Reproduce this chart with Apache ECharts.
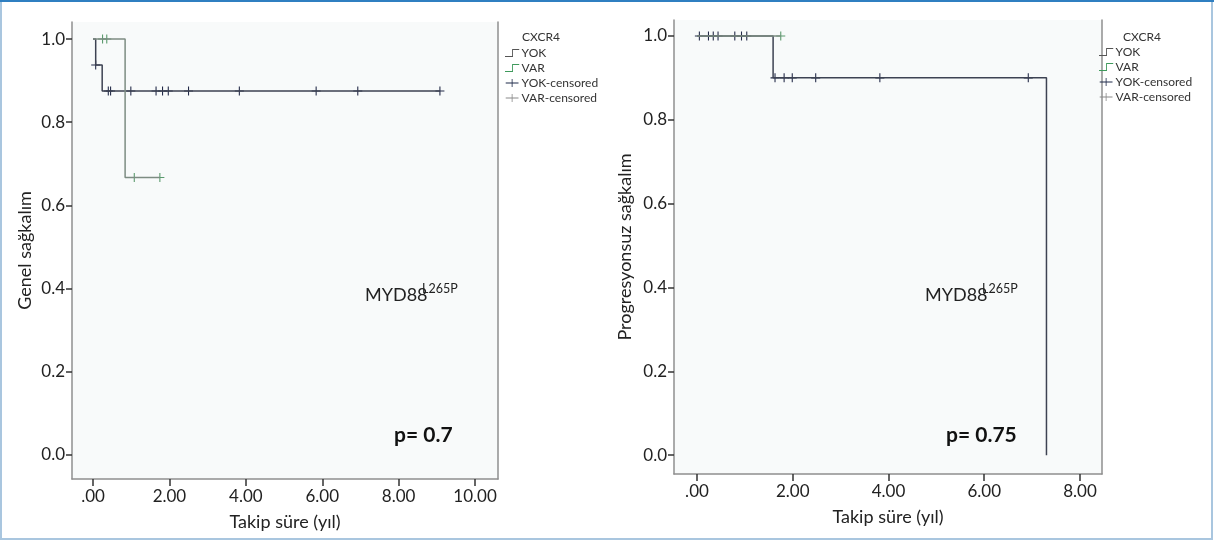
<!DOCTYPE html>
<html>
<head>
<meta charset="utf-8">
<script src="https://cdn.jsdelivr.net/npm/echarts@6/dist/echarts.min.js"></script>
<style>
  html, body { margin: 0; padding: 0; background: #fff; }
  #chart { width: 1214px; height: 541px; }
</style>
</head>
<body>
<div id="chart"></div>
<script>
// ---- data ----
var xTicksL = [0, 2, 4, 6, 8, 10];
var xTicksR = [0, 2, 4, 6, 8];
var yTicks = [0, 0.2, 0.4, 0.6, 0.8, 1.0];

// left panel: Genel sagkalim
var yokTimeL = [0, 0.07, 0.24, 9.08];
var yokSurvL = [1, 0.9375, 0.875, 0.875];
var varTimeL = [0, 0.84, 1.75];
var varSurvL = [1, 0.667, 0.667];
var yokCensTimeL = [0.07, 0.40, 0.46, 0.99, 1.65, 1.82, 1.97, 2.50, 3.83, 5.84, 6.93, 9.08];
var yokCensSurvL = [0.9375, 0.875, 0.875, 0.875, 0.875, 0.875, 0.875, 0.875, 0.875, 0.875, 0.875, 0.875];
var varCensTimeL = [0.25, 0.36, 1.08, 1.75];
var varCensSurvL = [1, 1, 0.667, 0.667];

// right panel: Progresyonsuz sagkalim
var yokTimeR = [0, 1.59, 7.30, 7.30];
var yokSurvR = [1, 0.9, 0.9, 0];
var varTimeR = [0, 1.75];
var varSurvR = [1, 1];
var yokCensTimeR = [0.05, 0.24, 0.34, 0.44, 0.79, 0.93, 1.04, 1.63, 1.82, 1.99, 2.48, 3.82, 6.92];
var yokCensSurvR = [1, 1, 1, 1, 1, 1, 1, 0.9, 0.9, 0.9, 0.9, 0.9, 0.9];
var varCensTimeR = [1.75];
var varCensSurvR = [1];

var FONT = 'Lato, "Open Sans", sans-serif';
var YOK_LINE = '#3d4252';
var YOK_MARK = '#232a48';
var VAR_LINE = '#7d8c82';
var VAR_MARK = '#5a9a6c';

var stepIcon = 'path://M0,9H8V1H16V2H9V10H0Z';
var censIcon = 'path://M0,4.5H7.5V0H8.5V4.5H16V5.5H8.5V10H7.5V5.5H0Z';
var plusMark = 'path://M-0.12,-1H0.12V-0.12H1V0.12H0.12V1H-0.12V0.12H-1V-0.12H-0.12Z';

function pairs(xs, ys) {
    var out = [];
    for (var i = 0; i < xs.length; i++) out.push([xs[i], ys[i]]);
    return out;
}
function xFmt(v) { return v === 0 ? '.00' : v.toFixed(2); }

function xAxisCfg(grid, min, max, ticks, gapName) {
    return {
        type: 'value', gridIndex: grid, min: min, max: max,
        name: 'Takip süre (yıl)', nameLocation: 'middle', nameGap: gapName,
        nameTextStyle: { fontFamily: FONT, fontSize: 18, color: '#222' },
        axisLine: { show: true, onZero: false, lineStyle: { color: '#8f8f8f', width: 1.5 } },
        axisTick: { show: true, length: 7, customValues: ticks, lineStyle: { color: '#333', width: 1.5 } },
        axisLabel: { customValues: ticks, margin: 9, fontFamily: FONT, fontSize: 17, color: '#222', formatter: xFmt },
        splitLine: { show: false }
    };
}
function yAxisCfg(grid, min, max, name, gap) {
    return {
        type: 'value', gridIndex: grid, min: min, max: max,
        name: name, nameLocation: 'middle', nameGap: gap,
        nameTextStyle: { fontFamily: FONT, fontSize: 18, color: '#222' },
        axisLine: { show: true, onZero: false, lineStyle: { color: '#8f8f8f', width: 1.5 } },
        axisTick: { show: true, length: 6, customValues: yTicks, lineStyle: { color: '#333', width: 1.5 } },
        axisLabel: { customValues: yTicks, margin: 7, fontFamily: FONT, fontSize: 17, color: '#222',
            formatter: function (v) { return v.toFixed(1); } },
        splitLine: { show: false }
    };
}
function frameAxis(grid, min, max) {
    return {
        type: 'value', gridIndex: grid, min: min, max: max, position: 'right',
        axisLine: { show: true, onZero: false, lineStyle: { color: '#8f8f8f', width: 1.5 } },
        axisTick: { show: false }, axisLabel: { show: false }, splitLine: { show: false }
    };
}
function curve(name, xi, data, color) {
    return {
        name: name, type: 'line', step: 'end', xAxisIndex: xi, yAxisIndex: xi,
        data: data, showSymbol: false, symbol: 'none', silent: true,
        lineStyle: { color: color, width: 1.5 }, itemStyle: { color: color }
    };
}
function marks(name, xi, data, color) {
    return {
        name: name, type: 'scatter', xAxisIndex: xi, yAxisIndex: xi,
        data: data, symbol: plusMark, symbolSize: [9, 9], silent: true,
        itemStyle: { color: color, opacity: 1 }
    };
}
function legendCfg(left, top) {
    return {
        orient: 'vertical', left: left, top: top, itemWidth: 17, itemHeight: 8, itemGap: 3,
        selectedMode: false,
        textStyle: { fontFamily: FONT, fontSize: 12, color: '#333', padding: [0, 0, 0, -4] },
        data: [
            { name: 'YOK', icon: stepIcon, itemStyle: { color: '#555' } },
            { name: 'VAR', icon: stepIcon, itemStyle: { color: '#3f9a5c' } },
            { name: 'YOK-censored', icon: censIcon, itemStyle: { color: '#1f2a4a' } },
            { name: 'VAR-censored', icon: censIcon, itemStyle: { color: '#8a8a8a' } }
        ]
    };
}

var option = {
    backgroundColor: '#ffffff',
    animation: false,
    grid: [
        { left: 72, right: 716, top: 22, bottom: 62, show: true, backgroundColor: '#f8fafa', borderWidth: 0 },
        { left: 674, right: 112, top: 20, bottom: 67, show: true, backgroundColor: '#f8fafa', borderWidth: 0 }
    ],
    xAxis: [
        xAxisCfg(0, -0.55, 10.6, xTicksL, 34),
        xAxisCfg(1, -0.48, 8.46, xTicksR, 34)
    ],
    yAxis: [
        yAxisCfg(0, -0.058, 1.041, 'Genel sağkalım', 38),
        yAxisCfg(1, -0.045, 1.038, 'Progresyonsuz sağkalım', 40),
        frameAxis(0, -0.058, 1.041),
        frameAxis(1, -0.045, 1.038)
    ],
    legend: [legendCfg(500, 42), legendCfg(1094, 41)],
    series: [
        curve('YOK', 0, pairs(yokTimeL, yokSurvL), YOK_LINE),
        curve('VAR', 0, pairs(varTimeL, varSurvL), VAR_LINE),
        marks('YOK-censored', 0, pairs(yokCensTimeL, yokCensSurvL), YOK_MARK),
        marks('VAR-censored', 0, pairs(varCensTimeL, varCensSurvL), VAR_MARK),
        curve('YOK', 1, pairs(yokTimeR, yokSurvR), YOK_LINE),
        curve('VAR', 1, pairs(varTimeR, varSurvR), VAR_LINE),
        marks('YOK-censored', 1, pairs(yokCensTimeR, yokCensSurvR), YOK_MARK),
        marks('VAR-censored', 1, pairs(varCensTimeR, varCensSurvR), VAR_MARK)
    ],
    graphic: [
        { type: 'rect', silent: true, z: 100, shape: { x: 1, y: 1, width: 1211, height: 538 },
          style: { fill: 'none', stroke: '#a9c6df', lineWidth: 2 } },
        { type: 'line', silent: true, z: 101, shape: { x1: 0, y1: 1, x2: 1214, y2: 1 },
          style: { stroke: '#2f7fc1', lineWidth: 2 } },
        { type: 'text', left: 522, top: 31, style: { text: 'CXCR4', fontFamily: FONT, fontSize: 12, fill: '#333' } },
        { type: 'text', left: 1123, top: 31, style: { text: 'CXCR4', fontFamily: FONT, fontSize: 12, fill: '#333' } },
        { type: 'text', left: 365, top: 286, style: { text: 'MYD88', fontFamily: FONT, fontSize: 18, fill: '#222' } },
        { type: 'text', left: 422, top: 282, style: { text: 'L265P', fontFamily: FONT, fontSize: 12.5, fill: '#222' } },
        { type: 'text', left: 925, top: 286, style: { text: 'MYD88', fontFamily: FONT, fontSize: 18, fill: '#222' } },
        { type: 'text', left: 982, top: 282, style: { text: 'L265P', fontFamily: FONT, fontSize: 12.5, fill: '#222' } },
        { type: 'text', left: 394, top: 425, style: { text: 'p= 0.7', fontFamily: FONT, fontSize: 21, fontWeight: 'bold', fill: '#111' } },
        { type: 'text', left: 946, top: 425, style: { text: 'p= 0.75', fontFamily: FONT, fontSize: 21, fontWeight: 'bold', fill: '#111' } }
    ]
};

var myChart = echarts.init(document.getElementById('chart'));
myChart.setOption(option);
</script>
</body>
</html>
